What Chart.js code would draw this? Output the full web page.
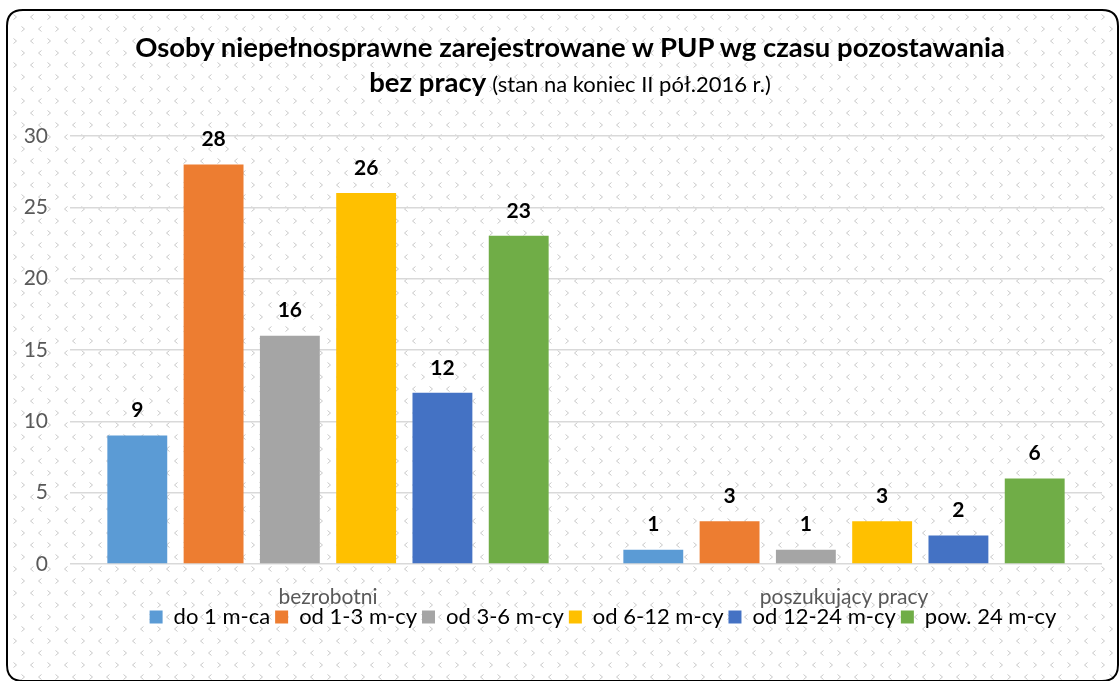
<!DOCTYPE html>
<html>
<head>
<meta charset="utf-8">
<script src="https://cdn.jsdelivr.net/npm/chart.js@4"></script>
<style>
  html, body { margin: 0; padding: 0; background: #fff; }
  #wrap { position: relative; width: 1119px; height: 681px; overflow: hidden; }
  #title {
    position: absolute; left: 0; top: 29px; width: 1140px;
    text-align: center; font-family: Lato, sans-serif; color: #000;
    font-size: 27.5px; line-height: 35px; font-weight: bold;
  }
  #title .sub { font-weight: normal; font-size: 22px; }
</style>
</head>
<body>
<div id="wrap">
  <canvas id="chart" width="1119" height="681"></canvas>
  <div id="title">Osoby niepełnosprawne zarejestrowane w PUP wg czasu pozostawania<br>bez pracy <span class="sub">(stan na koniec II pół.2016 r.)</span></div>
</div>
<script>
const categories = ['bezrobotni', 'poszukujący pracy'];
const seriesNames = ['do 1 m-ca', 'od 1-3 m-cy', 'od 3-6 m-cy', 'od 6-12 m-cy', 'od 12-24 m-cy', 'pow. 24 m-cy'];
const do1 = [9, 1];
const od1do3 = [28, 3];
const od3do6 = [16, 1];
const od6do12 = [26, 3];
const od12do24 = [12, 2];
const pow24 = [23, 6];
const yTicks = [0, 5, 10, 15, 20, 25, 30];

const colors = ['#5B9BD5', '#ED7D31', '#A5A5A5', '#FFC000', '#4472C4', '#70AD47'];
const values = [do1, od1do3, od3do6, od6do12, od12do24, pow24];

function makePattern(ctx) {
    const tile = document.createElement('canvas');
    tile.width = 34;
    tile.height = 24;
    const t = tile.getContext('2d');
    t.strokeStyle = '#c8c8c8';
    t.lineWidth = 1;
    function chev(x, y, dir) {
        t.beginPath();
        t.moveTo(x + (dir > 0 ? 0 : 3), y);
        t.lineTo(x + (dir > 0 ? 3 : 0), y + 2.5);
        t.lineTo(x + (dir > 0 ? 0 : 3), y + 5);
        t.stroke();
    }
    chev(4.5, 2.5, -1);
    chev(21.5, 2.5, 1);
    chev(13.5, 14.5, 1);
    chev(30.5, 14.5, -1);
    return ctx.createPattern(tile, 'repeat');
}

function roundRect(ctx, x, y, w, h, r) {
    ctx.beginPath();
    ctx.moveTo(x + r, y);
    ctx.lineTo(x + w - r, y);
    ctx.quadraticCurveTo(x + w, y, x + w, y + r);
    ctx.lineTo(x + w, y + h - r);
    ctx.quadraticCurveTo(x + w, y + h, x + w - r, y + h);
    ctx.lineTo(x + r, y + h);
    ctx.quadraticCurveTo(x, y + h, x, y + h - r);
    ctx.lineTo(x, y + r);
    ctx.quadraticCurveTo(x, y, x + r, y);
    ctx.closePath();
}

// background with pattern and rounded frame
const frame = {
    id: 'frame',
    beforeDraw(chart) {
        const ctx = chart.ctx;
        ctx.save();
        ctx.fillStyle = '#fff';
        ctx.fillRect(0, 0, chart.width, chart.height);
        roundRect(ctx, 7, 10, 1111, 671, 16);
        ctx.fillStyle = makePattern(ctx);
        ctx.fill();
        ctx.lineWidth = 2;
        ctx.strokeStyle = '#000';
        ctx.stroke();
        ctx.restore();
    }
};

// the legend in the original sits a bit right of centre
const legendShift = {
    id: 'legendShift',
    afterLayout(chart) {
        chart.legend.left += 52;
        chart.legend.right += 52;
    }
};

// values above bars
const barLabels = {
    id: 'barLabels',
    afterDatasetsDraw(chart) {
        const ctx = chart.ctx;
        ctx.save();
        ctx.font = 'bold 21px Lato';
        ctx.fillStyle = '#000';
        ctx.textAlign = 'center';
        ctx.textBaseline = 'middle';
        chart.data.datasets.forEach((ds, i) => {
            chart.getDatasetMeta(i).data.forEach((bar, j) => {
                ctx.fillText(ds.data[j], bar.x, bar.y - 25);
            });
        });
        ctx.restore();
    }
};

new Chart(document.getElementById('chart'), {
    type: 'bar',
    data: {
        labels: categories,
        datasets: seriesNames.map((name, i) => ({
            label: name,
            data: values[i],
            backgroundColor: colors[i],
            borderWidth: 0,
            categoryPercentage: 0.887,
            barPercentage: 0.785
        }))
    },
    options: {
        responsive: false,
        animation: false,
        layout: { padding: { top: 136, right: 17, bottom: 43, left: 0 } },
        scales: {
            x: {
                grid: { display: false },
                border: { display: false },
                ticks: { color: '#595959', font: { family: 'Lato', size: 21, lineHeight: 1 }, padding: 15 },
                afterFit(scale) {
                    scale.height = 37;
                    // let the category names run into the legend band, as in the original
                    scale._computeLabelArea = () => undefined;
                }
            },
            y: {
                min: 0,
                max: 30,
                afterBuildTicks(scale) { scale.ticks = yTicks.map(v => ({ value: v })); },
                grid: { color: '#d9d9d9', lineWidth: 1.5, drawTicks: false },
                border: { display: false },
                ticks: { color: '#595959', font: { family: 'Lato', size: 21 }, padding: 22 },
                afterFit(scale) { scale.width = 70; }
            }
        },
        plugins: {
            title: { display: false },
            tooltip: { enabled: false },
            legend: {
                position: 'bottom',
                labels: {
                    color: '#000',
                    font: { family: 'Lato', size: 22 },
                    boxWidth: 13,
                    boxHeight: 13,
                    padding: 5
                }
            }
        }
    },
    plugins: [frame, legendShift, barLabels]
});
</script>
</body>
</html>
